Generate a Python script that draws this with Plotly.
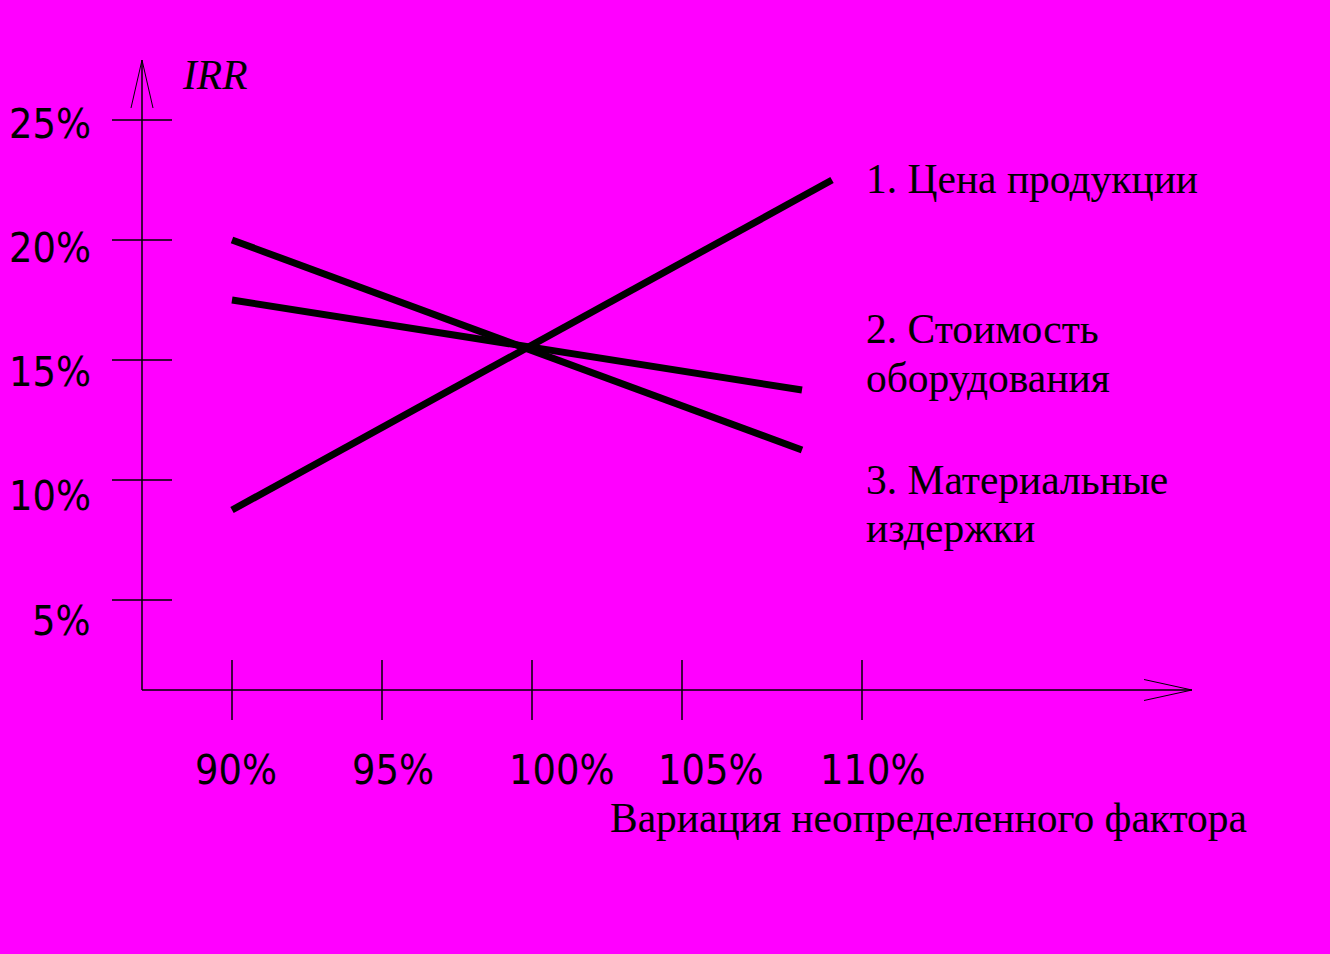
import plotly.graph_objects as go

W, H = 1330, 954

# ---------------- data ----------------
variation_price = [90, 110]          # % of base value
irr_price = [8.75, 22.5]             # IRR, %
variation_equipment = [90, 109]
irr_equipment = [17.5, 13.75]
variation_material = [90, 109]
irr_material = [20.0, 11.25]

y_ticks = [25, 20, 15, 10, 5]
y_tick_labels = ["25%", "20%", "15%", "10%", "5%"]
x_ticks = [90, 95, 100, 105, 111]
x_tick_labels = ["90%", "95%", "100%", "105%", "110%"]

series_labels = [["1. Цена продукции"],
                 ["2. Стоимость", "оборудования"],
                 ["3. Материальные", "издержки"]]
y_title = "IRR"
x_title = "Вариация неопределенного фактора"

# ---------------- layout geometry ----------------
BG = "#FF00FF"
INK = "black"
X_PER_PX = 1 / 30.0
Y_PER_PX = 1 / 24.0
x_min = 90 - 232 * X_PER_PX
x_max = x_min + W * X_PER_PX
y_max = 720 * Y_PER_PX
y_min = y_max - H * Y_PER_PX

axis_x0 = 87.0      # position of vertical axis (x units)
axis_y0 = 1.25      # position of horizontal axis (y units)
y_arrow_tip = 27.5
x_arrow_tip = 122.0

SANS = "DejaVu Sans Condensed, DejaVu Sans, sans-serif"
SERIF = "Liberation Serif, Times New Roman, serif"
SANS_SIZE = 41
SERIF_SIZE = 41.5

fig = go.Figure()
for xs, ys in [(variation_price, irr_price),
               (variation_equipment, irr_equipment),
               (variation_material, irr_material)]:
    fig.add_trace(go.Scatter(x=xs, y=ys, mode="lines",
                             line=dict(color=INK, width=7),
                             showlegend=False, hoverinfo="skip"))

shapes = []
def seg(x0, y0, x1, y1, w=1.5):
    shapes.append(dict(type="line", xref="x", yref="y", x0=x0, y0=y0, x1=x1, y1=y1,
                       line=dict(color=INK, width=w)))

# axes
seg(axis_x0, axis_y0, axis_x0, y_arrow_tip)
seg(axis_x0, axis_y0, x_arrow_tip, axis_y0)
# arrow heads
seg(axis_x0, y_arrow_tip, axis_x0 - 11 * X_PER_PX, y_arrow_tip - 48 * Y_PER_PX, 1)
seg(axis_x0, y_arrow_tip, axis_x0 + 11 * X_PER_PX, y_arrow_tip - 48 * Y_PER_PX, 1)
seg(x_arrow_tip, axis_y0, x_arrow_tip - 48 * X_PER_PX, axis_y0 + 10.5 * Y_PER_PX, 1)
seg(x_arrow_tip, axis_y0, x_arrow_tip - 48 * X_PER_PX, axis_y0 - 10.5 * Y_PER_PX, 1)
# tick marks
for v in y_ticks:
    seg(axis_x0 - 30 * X_PER_PX, v, axis_x0 + 30 * X_PER_PX, v)
for v in x_ticks:
    seg(v, axis_y0 + 30 * Y_PER_PX, v, axis_y0 - 30 * Y_PER_PX)

ann = []
def text(px, py, s, font, size, xanchor="left", italic=False):
    ann.append(dict(xref="paper", yref="paper", x=px / W, y=1 - py / H, text=s,
                    showarrow=False, xanchor=xanchor, yanchor="middle",
                    font=dict(family=font, size=size, color=INK,
                              style="italic" if italic else "normal")))

# y tick labels (drawn slightly below their tick marks, as in the original)
for lab, py in zip(y_tick_labels, [124, 248, 372, 496, 621]):
    text(93, py, lab, SANS, SANS_SIZE, xanchor="right")
# x tick labels
for lab, px in zip(x_tick_labels, [236, 393, 561, 710, 873]):
    text(px, 770, lab, SANS, SANS_SIZE, xanchor="center")

text(180, 75, y_title, SERIF, SERIF_SIZE, italic=True)
text(928, 818, x_title, SERIF, SERIF_SIZE, xanchor="center")

label_rows = [[179], [329, 378], [480, 528]]
for lines, rows in zip(series_labels, label_rows):
    for s, py in zip(lines, rows):
        text(864, py, s, SERIF, SERIF_SIZE)

fig.update_layout(
    width=W, height=H, autosize=False,
    margin=dict(l=0, r=0, t=0, b=0, pad=0),
    paper_bgcolor=BG, plot_bgcolor=BG,
    xaxis=dict(range=[x_min, x_max], visible=False, fixedrange=True),
    yaxis=dict(range=[y_min, y_max], visible=False, fixedrange=True),
    shapes=shapes, annotations=ann,
)

fig.write_html("out.html", config={"displayModeBar": False},
               post_script="document.body.style.margin='0';document.body.style.overflow='hidden';")
